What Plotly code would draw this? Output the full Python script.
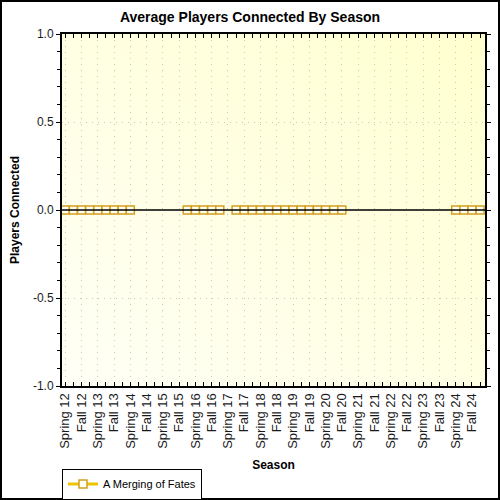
import base64
import plotly.graph_objects as go

# season labels, one per tick (every second period)
seasons = ["Spring 12", "Fall 12", "Spring 13", "Fall 13", "Spring 14", "Fall 14",
           "Spring 15", "Fall 15", "Spring 16", "Fall 16", "Spring 17", "Fall 17",
           "Spring 18", "Fall 18", "Spring 19", "Fall 19", "Spring 20", "Fall 20",
           "Spring 21", "Fall 21", "Spring 22", "Fall 22", "Spring 23", "Fall 23",
           "Spring 24", "Fall 24"]
season_pos = [0, 2, 4, 6, 8, 10, 12, 14, 16, 18, 20, 22, 24, 26, 28, 30, 32, 34,
              36, 38, 40, 42, 44, 46, 48, 50]

# y tick labels (plain hyphen, like the original)
y_ticks = [-1.0, -0.5, 0.0, 0.5, 1.0]
y_labels = ["-1.0", "-0.5", "0.0", "0.5", "1.0"]

# half-season periods and average players (None = no data)
periods = list(range(52))
players = [0, 0, 0, 0, 0, 0, 0, 0, 0,
           None, None, None, None, None, None,
           0, 0, 0, 0, 0,
           None,
           0, 0, 0, 0, 0, 0, 0, 0, 0, 0, 0, 0, 0, 0,
           None, None, None, None, None, None, None, None, None, None, None, None, None,
           0, 0, 0, 0]

W, H = 500, 500
ML, MR, MT, MB = 62, 15, 34, 114
PW, PH = W - ML - MR, H - MT - MB

# plot background gradient (white-ish bottom-left to pale yellow top-right)
svg = ('<svg xmlns="http://www.w3.org/2000/svg" width="100" height="100" preserveAspectRatio="none">'
       '<defs><linearGradient id="g" x1="0" y1="1" x2="1" y2="0">'
       '<stop offset="0" stop-color="#fffff6"/><stop offset="1" stop-color="#ffffcf"/>'
       '</linearGradient></defs><rect width="100" height="100" fill="url(#g)"/></svg>')
bg_src = "data:image/svg+xml;base64," + base64.b64encode(svg.encode()).decode()

fig = go.Figure()
fig.add_trace(go.Scatter(
    x=periods, y=players, name="A Merging of Fates",
    mode="lines+markers", connectgaps=False,
    line=dict(color="#ecc400", width=3),
    marker=dict(symbol="square", size=8, color="#fffff4",
                line=dict(color="#d4a020", width=1.5)),
))

font = "Liberation Sans, Arial, sans-serif"
fig.update_layout(
    width=W, height=H,
    margin=dict(l=ML, r=MR, t=MT, b=MB, autoexpand=False),
    paper_bgcolor="white", plot_bgcolor="rgba(0,0,0,0)",
    font=dict(family=font, size=12, color="#1a1a1a"),
    title=dict(text="<b>Average Players Connected By Season</b>", x=0.5, xanchor="center",
               y=1 - 17 / H, yanchor="middle", font=dict(size=14, color="black")),
    showlegend=True,
    legend=dict(x=0, xanchor="left", y=(H - MB - 484) / PH, yanchor="middle",
                orientation="h", bgcolor="white", bordercolor="black",
                borderwidth=1, font=dict(size=11, color="black"), itemwidth=30,
                tracegroupgap=0),
    images=[dict(source=bg_src, xref="paper", yref="paper", x=0, y=1, sizex=1, sizey=1,
                 sizing="stretch", layer="below")],
)
fig.update_xaxes(
    automargin=False,
    range=[-0.4, 51.6], tickmode="array", tickvals=season_pos, ticktext=seasons,
    tickangle=-90, tickfont=dict(size=13),
    ticks="inside", ticklen=4, tickcolor="black",
    minor=dict(tickmode="linear", tick0=0, dtick=1, ticks="inside", ticklen=4,
               tickcolor="black", showgrid=False),
    showline=True, linecolor="black", linewidth=2, mirror="ticks",
    showgrid=True, gridcolor="#c8c8c8", griddash="1px,5px", gridwidth=1,
    zeroline=False,
    title=dict(text="<b>Season</b>", font=dict(size=12, color="black"), standoff=13),
)
fig.update_yaxes(
    automargin=False,
    range=[-1, 1], tickmode="array", tickvals=y_ticks, ticktext=y_labels,
    tickfont=dict(size=12),
    ticks="outside", ticklen=4, tickcolor="black",
    minor=dict(tickmode="linear", tick0=0, dtick=0.1, ticks="outside", ticklen=3,
               tickcolor="black", showgrid=False),
    showline=True, linecolor="black", linewidth=2, mirror="ticks",
    showgrid=True, gridcolor="#c8c8c8", griddash="1px,5px", gridwidth=1,
    zeroline=False,
    title=dict(text="<b>Players Connected</b>", font=dict(size=12, color="black"), standoff=11),
)

# black zero line drawn over the series
fig.add_shape(type="line", xref="paper", yref="y", x0=0, x1=1, y0=0, y1=0,
              line=dict(color="black", width=1.5), layer="above")
# outer border of the whole image
fig.add_shape(type="rect", xref="paper", yref="paper",
              x0=-(ML - 1) / PW, x1=1 + (MR - 1) / PW,
              y0=-(MB - 1) / PH, y1=1 + (MT - 1) / PH,
              line=dict(color="black", width=2), layer="above")

# drop the default page margin so the figure sits at the window's corner
fig.write_html("out.html", config={"displayModeBar": False},
               post_script="document.body.style.margin='0';")
